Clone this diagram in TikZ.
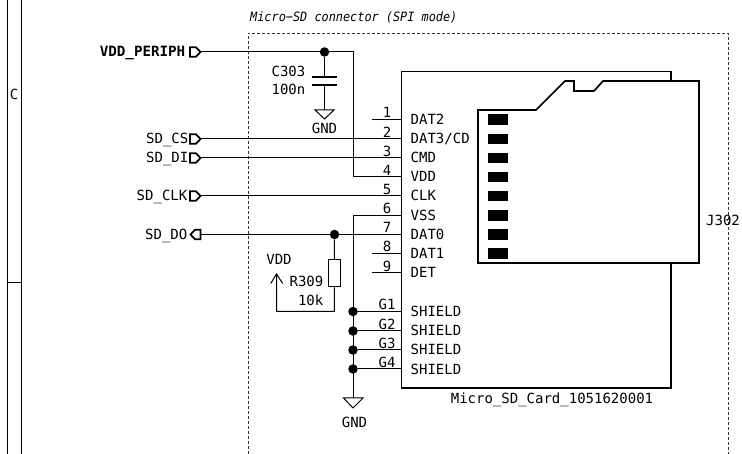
\documentclass[tikz,border=0pt]{standalone}
\usepackage{fontspec}
\setmainfont{DejaVu Sans Mono}
\newfontfamily\titlefont[FakeStretch=0.92]{DejaVu Sans Mono Oblique}
\tikzset{
    wire/.style={black,line width=1pt},
    heavy/.style={black,line width=1.4pt},
    card/.style={black,line width=1.7pt},
    junction/.style={circle,fill=black,inner sep=0pt,minimum size=9.5pt},
    txt/.style={inner sep=0pt,font=\fontsize{14}{16}\selectfont},
}
\begin{document}
\begin{tikzpicture}[x=1pt,y=-1pt]
    \useasboundingbox (0,0) rectangle (742,454);

    % Sheet frame
    \draw[wire] (7,0) -- (7,454);
    \draw[wire] (21.5,0) -- (21.5,454);
    \draw[wire] (7,283) -- (21.5,283);
    \node[txt] (zone) at (14,94) {C};

    % Dashed group
    \draw[black!80,line width=0.9pt,dash pattern=on 3pt off 2pt] (248,454) -- (248,33) -- (728,33) -- (728,454);
    \node[txt,anchor=base west,font=\fontsize{12.9}{14}\titlefont] (title) at (250,21.5) {Micro−SD connector (SPI mode)};

    % Connector body
    \draw[heavy] (401.5,71.5) rectangle (671,388);
    \node[txt,anchor=base west] (refdes) at (706,226) {J302};
    \node[txt,anchor=base] (value) at (552,403) {Micro\_SD\_Card\_1051620001};

    % Card outline
    \draw[card,fill=white] (478,263) -- (478,110) -- (536,110) -- (565,81) -- (574,81) -- (574,91) -- (594,91) -- (603,81) -- (699,81) -- (699,263) -- cycle;

    % Pins
    \foreach \n/\lab/\yy in {1/DAT2/119.5,2/{DAT3/CD}/139,3/CMD/158,4/VDD/177,5/CLK/196,6/VSS/215.5,7/DAT0/234.5,8/DAT1/253.5,9/DET/273} {
        \coordinate (pin\n) at (401,\yy);
        \draw[wire] (372,\yy) -- (pin\n);
        \node[txt,anchor=base] (num\n) at (387,\yy-1.5) {\n};
        \node[txt,anchor=base west] (name\n) at (410.5,\yy+5) {\lab};
    }
    \foreach \n/\yy in {1/311.5,2/331,3/350,4/369} {
        \coordinate (shield\n) at (401,\yy);
        \node[junction] (dot\n) at (353,\yy) {};
        \draw[wire] (dot\n) -- (shield\n);
        \node[txt,anchor=base] (numg\n) at (387,\yy-1.5) {G\n};
        \node[txt,anchor=base west] (nameg\n) at (410.5,\yy+5) {SHIELD};
    }

    % Contact pads
    \foreach \yy in {119.5,139,158,177,196,215.5,234.5,253.5}
        \fill[black] (487.5,\yy-5.2) rectangle (507.5,\yy+5.2);

    % Hierarchical labels
    \node[txt,anchor=base east,font=\fontsize{14.2}{16}\selectfont\bfseries] (periph) at (185.5,57) {VDD\_PERIPH};
    \node[txt,anchor=base east] (cs) at (188.5,144) {SD\_CS};
    \node[txt,anchor=base east] (di) at (188.5,163) {SD\_DI};
    \node[txt,anchor=base east] (clk) at (187.5,201) {SD\_CLK};
    \node[txt,anchor=base east] (do) at (187.5,239.5) {SD\_DO};
    \foreach \yy in {52,139,158,196}
        \draw[card,line join=miter] (190,\yy-4.7) -- (196,\yy-4.7) -- (200.5,\yy) -- (196,\yy+4.7) -- (190,\yy+4.7) -- cycle;
    \draw[card] (200.5,229.8) -- (195,229.8) -- (190.5,234.5) -- (195,239.2) -- (200.5,239.2) -- cycle;

    \coordinate (flagperiph) at (200.5,52);
    \coordinate (flagcs) at (200.5,139);
    \coordinate (flagdi) at (200.5,158);
    \coordinate (flagclk) at (200.5,196);
    \coordinate (flagdo) at (200.5,234.5);

    % Signal wires
    \node[junction] (vddnode) at (324.5,52) {};
    \node[junction] (donode) at (334.5,234.5) {};
    \draw[wire] (flagperiph) -- (353,52) -- (353,177) -- (pin4);
    \draw[wire] (flagcs) -- (pin2);
    \draw[wire] (flagdi) -- (pin3);
    \draw[wire] (flagclk) -- (pin5);
    \draw[wire] (flagdo) -- (pin7);

    % C303
    \coordinate (capa) at (324.5,77);
    \coordinate (capb) at (324.5,85);
    \coordinate (gnda) at (324.5,110);
    \draw[wire] (vddnode) -- (capa);
    \draw[wire] (capb) -- (gnda);
    \draw[black,line width=2pt] (312,77) -- (337,77);
    \draw[black,line width=2pt] (312,85) -- (337,85);
    \draw[wire] (315,110) -- (334,110) -- (324.5,119) -- cycle;
    \node[txt,anchor=base east] (cref) at (305.5,77) {C303};
    \node[txt,anchor=base east] (cval) at (305.5,95) {100n};
    \node[txt,anchor=base] (gndlaba) at (324.5,134) {GND};

    % R309
    \node[draw=black,line width=1.3pt,inner sep=0pt,minimum width=12pt,minimum height=27pt] (rbody) at (334.3,273.2) {};
    \coordinate (rcorner) at (334.5,311.5);
    \coordinate (vddtip) at (276.5,274);
    \draw[wire] (donode) -- (rbody.north);
    \draw[wire] (rbody.south) -- (rcorner) -- (276.5,311.5) -- (vddtip);
    \draw[wire] (270.7,283.5) -- (vddtip) -- (282.7,283.5);
    \node[txt,anchor=base] (vddlab) at (279,264.5) {VDD};
    \node[txt,anchor=base east] (rref) at (323.5,287) {R309};
    \node[txt,anchor=base east] (rval) at (323.5,306) {10k};

    % VSS and shield to ground
    \coordinate (gndb) at (353,398);
    \draw[wire] (pin6) -- (353,215.5) -- (gndb);
    \draw[wire] (343.5,398) -- (363,398) -- (353,408) -- cycle;
    \node[txt,anchor=base] (gndlabb) at (354.5,427) {GND};
\end{tikzpicture}
\end{document}
